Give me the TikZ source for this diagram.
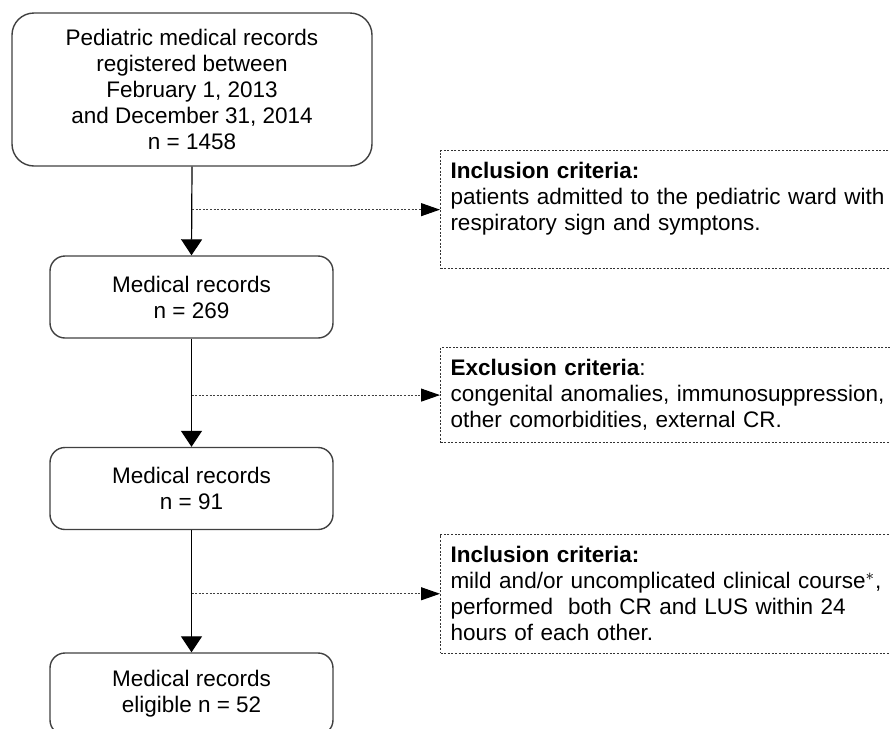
\documentclass[tikz,border=0pt]{standalone}
\usepackage{fontspec}
\setmainfont{Liberation Sans}
\usetikzlibrary{arrows.meta}

\tikzset{
	every node/.style={font=\fontsize{11.25}{13}\selectfont},
	recbox/.style={draw=black!75, line width=0.7pt, rounded corners=7.5pt, align=center,
		minimum width=141.5pt, minimum height=41pt, inner sep=0pt},
	critbox/.style={draw=black!80, line width=0.5pt, dash pattern=on 1pt off 0.8pt,
		anchor=north west, text width=220pt, inner xsep=5pt, inner ysep=6pt, align=left},
	flow/.style={-{Triangle[length=8pt,width=10.5pt]}, line width=0.6pt},
	branch/.style={-{Triangle[length=9.5pt,width=6.5pt,color=black]}, line width=0.5pt,
		dash pattern=on 1pt off 0.8pt, draw=black!75},
}

\begin{document}
\begin{tikzpicture}[x=0.5pt,y=-0.5pt]
	\useasboundingbox (0,0) rectangle (890,729);
	\clip (0,0) rectangle (890,729);
	
	% record boxes
	\node[recbox, rounded corners=11pt, minimum width=180pt, minimum height=76.5pt] (rec0) at (192,89.5)
	{Pediatric medical records\\ registered between\\ February 1, 2013\\ and December 31, 2014\\ n = 1458};
	\node[recbox] (rec1) at (191.5,297) {Medical records\\ n = 269};
	\node[recbox] (rec2) at (191.5,488.5) {Medical records\\ n = 91};
	\node[recbox] (rec3) at (191.5,694) {Medical records\\ eligible n = 52};
	
	% criteria boxes
	\node[critbox] (crit1) at (440,150)
	{\textbf{Inclusion criteria:}\\ patients admitted to the pediatric ward with\\ respiratory sign and symptons.\\ \mbox{}};
	\node[critbox] (crit2) at (440,347)
	{\textbf{Exclusion criteria}:\\ congenital anomalies, immunosuppression,\\ other comorbidities, external CR.};
	\node[critbox] (crit3) at (440,534)
	{\textbf{Inclusion criteria:}\\ mild and/or uncomplicated clinical course$^{*}$,\\ performed~ both CR and LUS within 24\\ hours of each other.};
	
	\coordinate (b1) at (rec0.south |- crit1.west);
	\coordinate (b2) at (rec1.south |- crit2.west);
	\coordinate (b3) at (rec2.south |- crit3.west);
	
	\draw[flow] (rec0.south) -- (rec1.north);
	\draw[flow] (rec1.south) -- (rec2.north);
	\draw[flow] (rec2.south) -- (rec3.north);
	
	\draw[branch] (b1) -- (crit1.west);
	\draw[branch] (b2) -- (crit2.west);
	\draw[branch] (b3) -- (crit3.west);
\end{tikzpicture}
\end{document}
